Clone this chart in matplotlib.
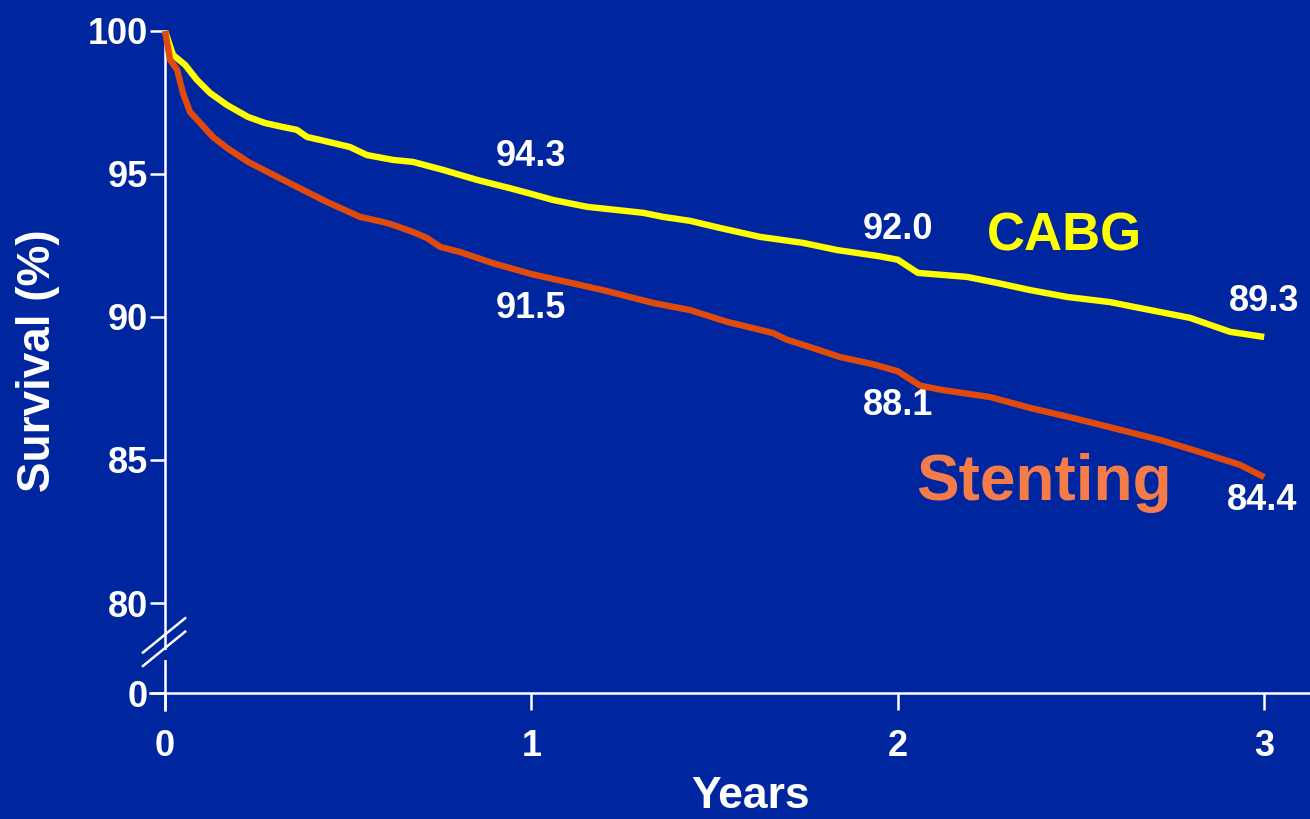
import numpy as np
import matplotlib
matplotlib.use("Agg")
import matplotlib.pyplot as plt

# Kaplan-Meier style survival, CABG vs stenting
years_cabg = [0, 0.022, 0.055, 0.087, 0.123, 0.169, 0.227, 0.273, 0.322, 0.360,
              0.388, 0.423, 0.505, 0.551, 0.622, 0.677, 0.759, 0.852, 0.942, 1.0,
              1.059, 1.152, 1.305, 1.359, 1.433, 1.515, 1.624, 1.741, 1.834, 1.951,
              2.0, 2.055, 2.189, 2.271, 2.361, 2.462, 2.579, 2.661, 2.797, 2.907, 3.0]
surv_cabg = [100, 99.16, 98.81, 98.29, 97.83, 97.41, 96.99, 96.78, 96.64, 96.54,
             96.29, 96.19, 95.94, 95.66, 95.49, 95.42, 95.14, 94.79, 94.50, 94.3,
             94.09, 93.85, 93.64, 93.50, 93.36, 93.11, 92.80, 92.59, 92.34, 92.12,
             92.0, 91.54, 91.40, 91.19, 90.94, 90.70, 90.52, 90.31, 89.97, 89.48, 89.3]

years_stent = [0, 0.014, 0.033, 0.049, 0.068, 0.101, 0.131, 0.169, 0.227, 0.259,
               0.306, 0.377, 0.442, 0.532, 0.595, 0.622, 0.677, 0.715, 0.751, 0.805,
               0.895, 1.0, 1.059, 1.195, 1.332, 1.433, 1.534, 1.659, 1.698, 1.760,
               1.842, 1.932, 2.0, 2.061, 2.12, 2.252, 2.361, 2.478, 2.587, 2.716,
               2.806, 2.934, 3.0]
surv_stent = [100, 98.99, 98.64, 97.83, 97.17, 96.71, 96.29, 95.91, 95.42, 95.21,
              94.90, 94.44, 94.02, 93.50, 93.32, 93.22, 92.97, 92.76, 92.45, 92.27,
              91.88, 91.5, 91.33, 90.94, 90.49, 90.24, 89.83, 89.44, 89.20, 88.95,
              88.60, 88.35, 88.1, 87.6, 87.45, 87.20, 86.82, 86.47, 86.12, 85.70,
              85.35, 84.83, 84.4]

mark_years = [1, 2, 3]
cabg_at = [94.3, 92.0, 89.3]
stent_at = [91.5, 88.1, 84.4]

ytick_vals = [80, 85, 90, 95, 100]
xtick_vals = [0, 1, 2, 3]

BG = "#00269F"
YELLOW = "#FFFF00"
ORANGE = "#E04A0A"
ORANGE_TXT = "#F47B4A"
Y_ZERO = 76.85  # where "0" sits below the axis break

plt.rcParams["font.family"] = ["Liberation Sans", "DejaVu Sans"]
plt.rcParams["font.weight"] = "bold"

fig = plt.figure(figsize=(13.1, 8.19), dpi=100, facecolor=BG)
ax = fig.add_axes([0, 0, 1, 1], facecolor=BG)
ax.set_xlim(-0.4503, 3.125)
ax.set_ylim(72.45, 101.08)

ax.plot(years_cabg, surv_cabg, color=YELLOW, lw=4.6, solid_capstyle="butt", zorder=3)
ax.plot(years_stent, surv_stent, color=ORANGE, lw=4.6, solid_capstyle="butt", zorder=4)

# spines crossing at (0, "0")
for s in ["top", "right"]:
    ax.spines[s].set_visible(False)
ax.spines["left"].set_position(("data", 0))
ax.spines["bottom"].set_position(("data", Y_ZERO))
ax.spines["left"].set_bounds(Y_ZERO - 0.6, 100)
ax.spines["bottom"].set_bounds(-0.041, 3.125)
for s in ["left", "bottom"]:
    ax.spines[s].set_color("white")
    ax.spines[s].set_linewidth(1.8)

ax.set_yticks([Y_ZERO] + ytick_vals)
ax.set_yticklabels(["0"] + [str(v) for v in ytick_vals])
ax.set_xticks(xtick_vals)
ax.set_xticklabels([str(v) for v in xtick_vals])
ax.tick_params(axis="y", direction="out", length=11, width=1.8, color="white",
               labelcolor="white", labelsize=26, pad=1.5)
ax.tick_params(axis="x", direction="out", length=12, width=1.8, color="white",
               labelcolor="white", labelsize=26, pad=14)
for lab in ax.get_xticklabels() + ax.get_yticklabels():
    lab.set_fontweight("bold")

# axis break between 0 and 80
ax.plot([0, 0], [Y_ZERO + 1.15, 78.35], color=BG, lw=4, zorder=5, solid_capstyle="butt")
for off in [0.0, 0.47]:
    ax.plot([-0.06, 0.055], [Y_ZERO + 0.95 + off, Y_ZERO + 2.15 + off], color="white",
            lw=1.8, zorder=6, clip_on=False)

ax.text(0.573, 0.028, "Years", transform=ax.transAxes, color="white",
        fontsize=32, fontweight="bold", ha="center", va="center")
ax.text(0.029, 0.560, "Survival (%)", transform=ax.transAxes, color="white",
        fontsize=33, fontweight="bold", ha="center", va="center", rotation=90)

cabg_off = [(0, 37), (0, 30), (0, 35)]
stent_off = [(0, -34), (0, -34), (-2, -23)]
for x, v, o in zip(mark_years, cabg_at, cabg_off):
    ax.annotate("{:.1f}".format(v), (x, v), xytext=o, textcoords="offset pixels",
                color="white", fontsize=26, fontweight="bold", ha="center", va="center")
for x, v, o in zip(mark_years, stent_at, stent_off):
    ax.annotate("{:.1f}".format(v), (x, v), xytext=o, textcoords="offset pixels",
                color="white", fontsize=26, fontweight="bold", ha="center", va="center")

ax.text(2.455, 92.8, "CABG", color=YELLOW, fontsize=38, fontweight="bold",
        ha="center", va="center")
ax.text(2.4, 84.21, "Stenting", color=ORANGE_TXT, fontsize=46, fontweight="bold",
        ha="center", va="center")

fig.savefig("out.png", dpi=100, facecolor=BG)
